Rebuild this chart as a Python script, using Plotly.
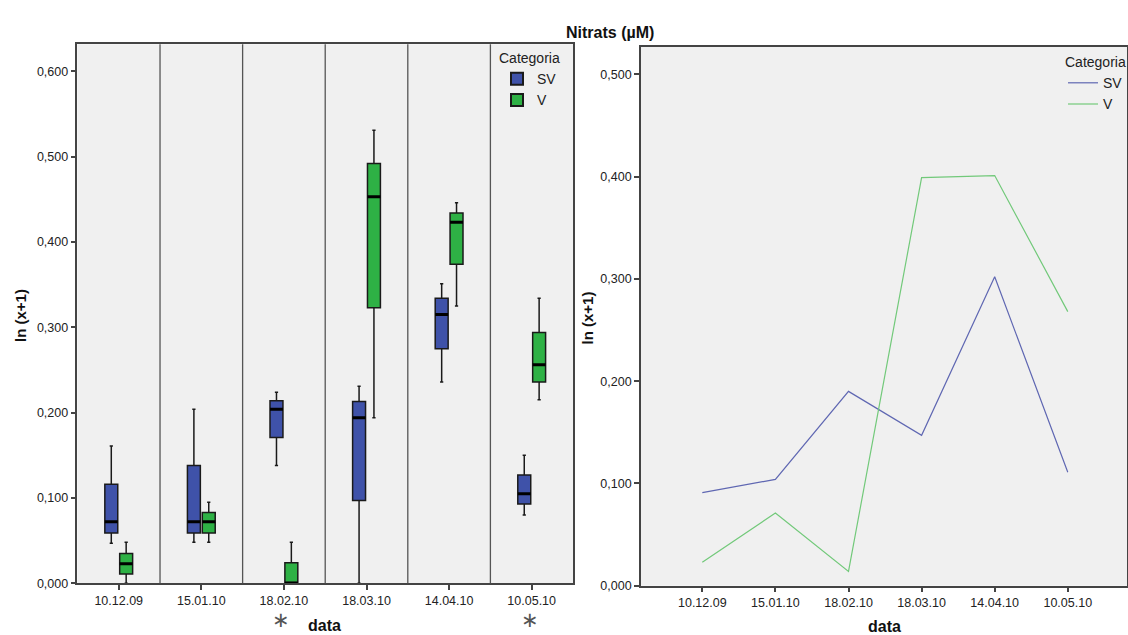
import plotly.graph_objects as go

# ---------------- data ----------------
categories = ["10.12.09", "15.01.10", "18.02.10", "18.03.10", "14.04.10", "10.05.10"]

# box statistics, ln(x+1) of nitrate
sv_low    = [0.047, 0.048, 0.138, 0.000, 0.236, 0.080]
sv_q1     = [0.059, 0.059, 0.171, 0.097, 0.275, 0.093]
sv_median = [0.072, 0.072, 0.204, 0.194, 0.315, 0.105]
sv_q3     = [0.116, 0.138, 0.214, 0.213, 0.334, 0.127]
sv_high   = [0.161, 0.204, 0.224, 0.231, 0.351, 0.150]

v_low    = [0.000, 0.048, 0.000, 0.194, 0.325, 0.215]
v_q1     = [0.011, 0.059, 0.000, 0.323, 0.374, 0.236]
v_median = [0.023, 0.072, 0.000, 0.453, 0.423, 0.256]
v_q3     = [0.035, 0.083, 0.024, 0.492, 0.434, 0.294]
v_high   = [0.048, 0.095, 0.048, 0.531, 0.446, 0.334]

# mean lines
sv_mean = [0.091, 0.104, 0.190, 0.147, 0.302, 0.111]
v_mean  = [0.023, 0.071, 0.014, 0.399, 0.401, 0.268]

outlier_cats = ["18.02.10", "10.05.10"]

# ---------------- style ----------------
FONT = "Liberation Sans, Arial, sans-serif"
BLUE = "#3F52A9"
GREEN = "#2EB145"
SV_LINE = "#5F67B2"
V_LINE = "#72C97A"
FRAME = "#444444"
BG = "#F0F0F0"

fig = go.Figure()

def add_box(name, color, low, q1, med, q3, high, group, show):
    fig.add_trace(go.Box(
        x=categories, q1=q1, median=med, q3=q3, lowerfence=low, upperfence=high,
        name=name, legendgroup=name, showlegend=show, offsetgroup=group,
        fillcolor=color, line=dict(color="#1a1a1a", width=1.5), whiskerwidth=0.25,
        boxpoints=False, xaxis="x", yaxis="y", legend="legend",
    ))
    # thick median bar
    fig.add_trace(go.Box(
        x=categories, q1=med, median=med, q3=med, lowerfence=med, upperfence=med,
        name=name, legendgroup=name, showlegend=False, offsetgroup=group,
        fillcolor="black", line=dict(color="black", width=3), whiskerwidth=0,
        boxpoints=False, xaxis="x", yaxis="y", hoverinfo="skip",
    ))

add_box("SV", BLUE, sv_low, sv_q1, sv_median, sv_q3, sv_high, "SV", True)
add_box("V", GREEN, v_low, v_q1, v_median, v_q3, v_high, "V", True)

fig.add_trace(go.Scatter(x=categories, y=sv_mean, mode="lines", name="SV",
                         line=dict(color=SV_LINE, width=1.2), xaxis="x2", yaxis="y2",
                         legend="legend2"))
fig.add_trace(go.Scatter(x=categories, y=v_mean, mode="lines", name="V",
                         line=dict(color=V_LINE, width=1.2), xaxis="x2", yaxis="y2",
                         legend="legend2"))

# category separators in the box panel
shapes = []
for i in range(len(categories) - 1):
    shapes.append(dict(type="line", xref="x", yref="y domain", x0=i + 0.5, x1=i + 0.5,
                       y0=0, y1=1, line=dict(color="#555555", width=1.3), layer="above"))

tickfont = dict(family=FONT, size=12.5, color="#222222")
axis_common = dict(showgrid=False, zeroline=False, showline=True, mirror=True,
                   linecolor=FRAME, linewidth=1.5, ticks="outside", ticklen=5,
                   tickcolor=FRAME, tickwidth=1.5, tickfont=tickfont, automargin=False)

def label(text, xpx, ypx, size, angle=0, family=FONT, color="#111111", xref="paper", x=None, xshift=0):
    return dict(text=text, xref=xref, yref="paper",
                x=(xpx / 1128 if x is None else x), y=1 - ypx / 635,
                xanchor="center", yanchor="middle", textangle=angle, xshift=xshift,
                showarrow=False, font=dict(family=family, size=size, color=color))

annotations = [
    label("<b>Nitrats (µM)</b>", 611, 32, 16),
    label("<b>data</b>", 325, 625, 16),
    label("<b>data</b>", 885, 626, 16),
    label("<b>ln (x+1)</b>", 20, 315, 15, angle=-90),
    label("<b>ln (x+1)</b>", 588, 318, 15, angle=-90),
]
for c, shift in zip(outlier_cats, [-3, -2]):
    annotations.append(label("∗", 0, 620, 21, family="DejaVu Sans", color="#555555",
                             xref="x", x=c, xshift=shift))

fig.update_layout(
    width=1128, height=635,
    margin=dict(l=0, r=0, t=0, b=0),
    paper_bgcolor="white", plot_bgcolor=BG,
    separators=",.",
    boxmode="group", boxgap=0.64, boxgroupgap=0.13,
    font=dict(family=FONT, size=12, color="#222222"),
    xaxis=dict(domain=[77.5 / 1128, 573.5 / 1128], type="category",
               range=[-0.5, len(categories) - 0.5], anchor="y",
               categoryorder="array", categoryarray=categories, **axis_common),
    yaxis=dict(domain=[51.7 / 635, 590.7 / 635], range=[0, 0.6317], anchor="x",
               tickvals=[0, 0.1, 0.2, 0.3, 0.4, 0.5, 0.6], tickformat=".3f", **axis_common),
    xaxis2=dict(domain=[641.4 / 1128, 1.0], type="category",
                range=[-0.841, 5.81], anchor="y2",
                categoryorder="array", categoryarray=categories, **axis_common),
    yaxis2=dict(domain=[49.3 / 635, 588.3 / 635], range=[0, 0.527], anchor="x2",
                tickvals=[0, 0.1, 0.2, 0.3, 0.4, 0.5], tickformat=".3f", **axis_common),
    legend=dict(title=dict(text="Categoria", font=dict(family=FONT, size=14)),
                x=497 / 1128, y=1 - 45 / 635, xanchor="left", yanchor="top",
                bgcolor="rgba(0,0,0,0)", font=dict(family=FONT, size=14, color="#222222"),
                tracegroupgap=0, itemsizing="constant"),
    legend2=dict(title=dict(text="Categoria", font=dict(family=FONT, size=14)),
                 x=1064 / 1128, y=1 - 49 / 635, xanchor="left", yanchor="top",
                 bgcolor="rgba(0,0,0,0)", font=dict(family=FONT, size=14, color="#222222"),
                 tracegroupgap=0),
    shapes=shapes,
    annotations=annotations,
    showlegend=True,
)

fig.write_html("out.html")
